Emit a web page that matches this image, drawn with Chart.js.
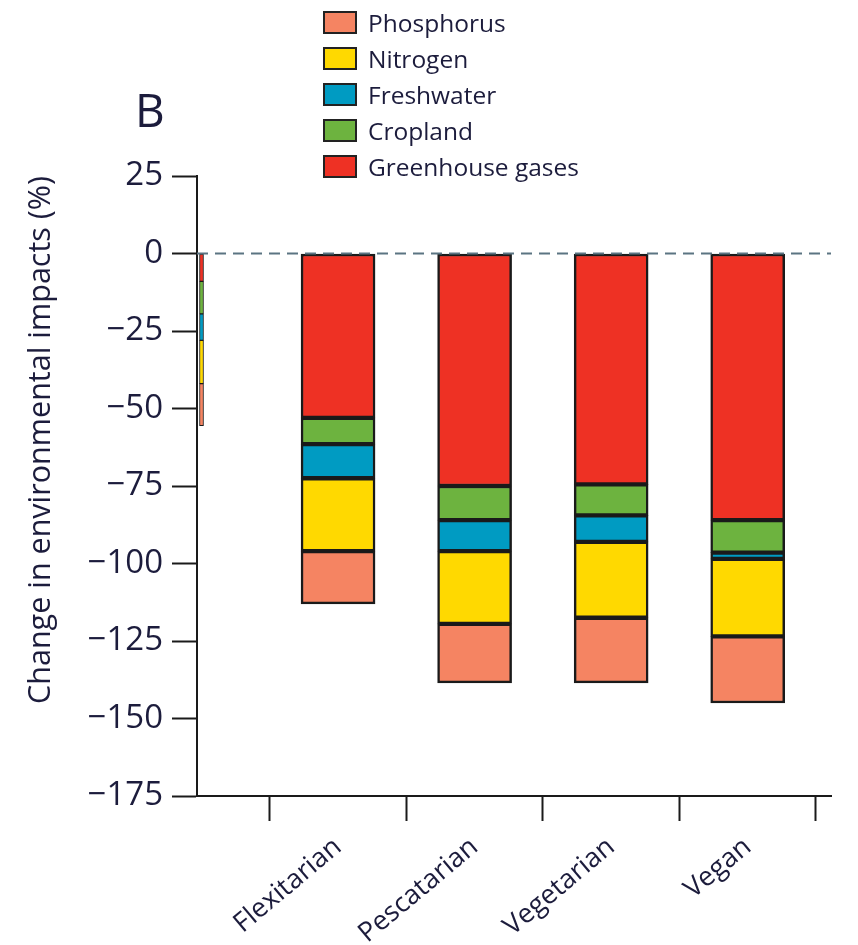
<!DOCTYPE html>
<html>
<head>
<meta charset="utf-8">
<title>Change in environmental impacts</title>
<script src="https://cdn.jsdelivr.net/npm/chart.js@4.4.1/dist/chart.umd.min.js"></script>
<style>
    body { margin: 0; background: #fff; }
    #wrap { position: relative; width: 858px; height: 945px; overflow: hidden; }
    #panel {
        position: absolute; left: 135px; top: 78px;
        font: 46px 'Open Sans', sans-serif; color: #1c1c3c;
    }
    #legend { position: absolute; left: 323px; top: 4px; }
    #legend ul { list-style: none; margin: 0; padding: 0; }
    #legend li { display: flex; align-items: center; height: 36px; }
    #legend .box {
        width: 30px; height: 19px; border: 2px solid #222; margin-right: 11px;
    }
    #legend .txt { font: 24.5px 'Open Sans', sans-serif; color: #1c1c3c; }
</style>
</head>
<body>
<div id="wrap">
    <canvas id="grafico" width="858" height="945"></canvas>
    <div id="panel">B</div>
    <div id="legend"></div>
</div>
<script>
// categorias (a primeira aparece cortada na figura original)
const categories = ['', 'Flexitarian', 'Pescatarian', 'Vegetarian', 'Vegan'];

// variação (%) de cada impacto por dieta
const greenhouseGases = [-9, -53, -75, -74.5, -86];
const cropland = [-10.5, -8.5, -11, -10, -10.5];
const freshwater = [-8.5, -11, -10, -8.5, -2];
const nitrogen = [-14, -23.5, -23.5, -24.5, -25];
const phosphorus = [-13.5, -17, -19, -21, -21.5];

const yTicks = [25, 0, -25, -50, -75, -100, -125, -150, -175];

const TEXT = '#1c1c3c';
const FONT = "'Open Sans', sans-serif";

// ordem de empilhamento: o primeiro fica junto do zero
const series = [
    { label: 'Greenhouse gases', values: greenhouseGases, color: '#ee3124' },
    { label: 'Cropland', values: cropland, color: '#6db33f' },
    { label: 'Freshwater', values: freshwater, color: '#009bc2' },
    { label: 'Nitrogen', values: nitrogen, color: '#ffd900' },
    { label: 'Phosphorus', values: phosphorus, color: '#f58462' }
];

const datasets = [];
series.forEach(s => {
    datasets.push({
        label: s.label,
        data: s.values.map((v, i) => ({ x: i, y: v })).slice(1),
        backgroundColor: s.color,
        borderColor: '#1a1a1a',
        borderWidth: 2.5,
        borderSkipped: false,
        barThickness: 74
    });
});
// barra estreita da categoria cortada
series.forEach(s => {
    datasets.push({
        label: s.label,
        thin: true,
        data: [{ x: 0, y: s.values[0] }],
        backgroundColor: s.color,
        borderColor: '#1a1a1a',
        borderWidth: 1,
        borderSkipped: false,
        barThickness: 4
    });
});

const zeroLine = {
    id: 'zeroLine',
    afterDatasetsDraw(chart) {
        const { ctx, chartArea, scales } = chart;
        const y = scales.y.getPixelForValue(0);
        ctx.save();
        ctx.strokeStyle = '#5b7482';
        ctx.lineWidth = 2;
        ctx.setLineDash([11, 7]);
        ctx.beginPath();
        ctx.moveTo(chartArea.left, y);
        ctx.lineTo(chartArea.right, y);
        ctx.stroke();
        ctx.restore();
    }
};

const htmlLegend = {
    id: 'htmlLegend',
    afterUpdate(chart) {
        const items = chart.options.plugins.legend.labels.generateLabels(chart)
            .filter(item => !chart.data.datasets[item.datasetIndex].thin)
            .reverse();
        const box = document.getElementById('legend');
        box.innerHTML = '<ul>' + items.map(item =>
            `<li><span class="box" style="background:${item.fillStyle}"></span><span class="txt">${item.text}</span></li>`
        ).join('') + '</ul>';
    }
};

new Chart(document.getElementById('grafico'), {
    type: 'bar',
    data: { datasets },
    plugins: [zeroLine, htmlLegend],
    options: {
        responsive: false,
        animation: false,
        layout: { padding: { top: 176, left: 0, right: 27, bottom: 0 } },
        plugins: {
            legend: { display: false },
            tooltip: { enabled: false }
        },
        scales: {
            x: {
                type: 'linear',
                stacked: true,
                offset: false,
                min: -0.033,
                max: 4.61,
                afterFit: axis => { axis.height = 149; },
                afterBuildTicks: axis => {
                    axis.ticks = categories.map((c, i) => ({ value: i }));
                },
                ticks: {
                    autoSkip: false,
                    minRotation: 40,
                    maxRotation: 40,
                    padding: 10,
                    color: TEXT,
                    font: { family: FONT, size: 27 },
                    callback: v => categories[v] ?? ''
                },
                grid: {
                    offset: true,
                    drawOnChartArea: false,
                    tickLength: 25,
                    tickWidth: 2,
                    tickColor: '#1a1a1a'
                },
                border: { color: '#1a1a1a', width: 2 }
            },
            y: {
                stacked: true,
                min: yTicks[yTicks.length - 1],
                max: yTicks[0],
                afterFit: axis => { axis.width = 197; },
                afterBuildTicks: axis => {
                    axis.ticks = yTicks.map(v => ({ value: v }));
                },
                ticks: {
                    padding: 9,
                    color: TEXT,
                    font: { family: FONT, size: 33 },
                    callback: v => String(v).replace('-', '\u2212')
                },
                grid: {
                    drawOnChartArea: false,
                    tickLength: 25,
                    tickWidth: 2,
                    tickColor: '#1a1a1a'
                },
                border: { color: '#1a1a1a', width: 2 },
                title: {
                    display: true,
                    align: 'end',
                    text: 'Change in environmental impacts (%)',
                    color: TEXT,
                    font: { family: FONT, size: 30.5 },
                    padding: { top: 23, bottom: 0 }
                }
            }
        }
    }
});
</script>
</body>
</html>
